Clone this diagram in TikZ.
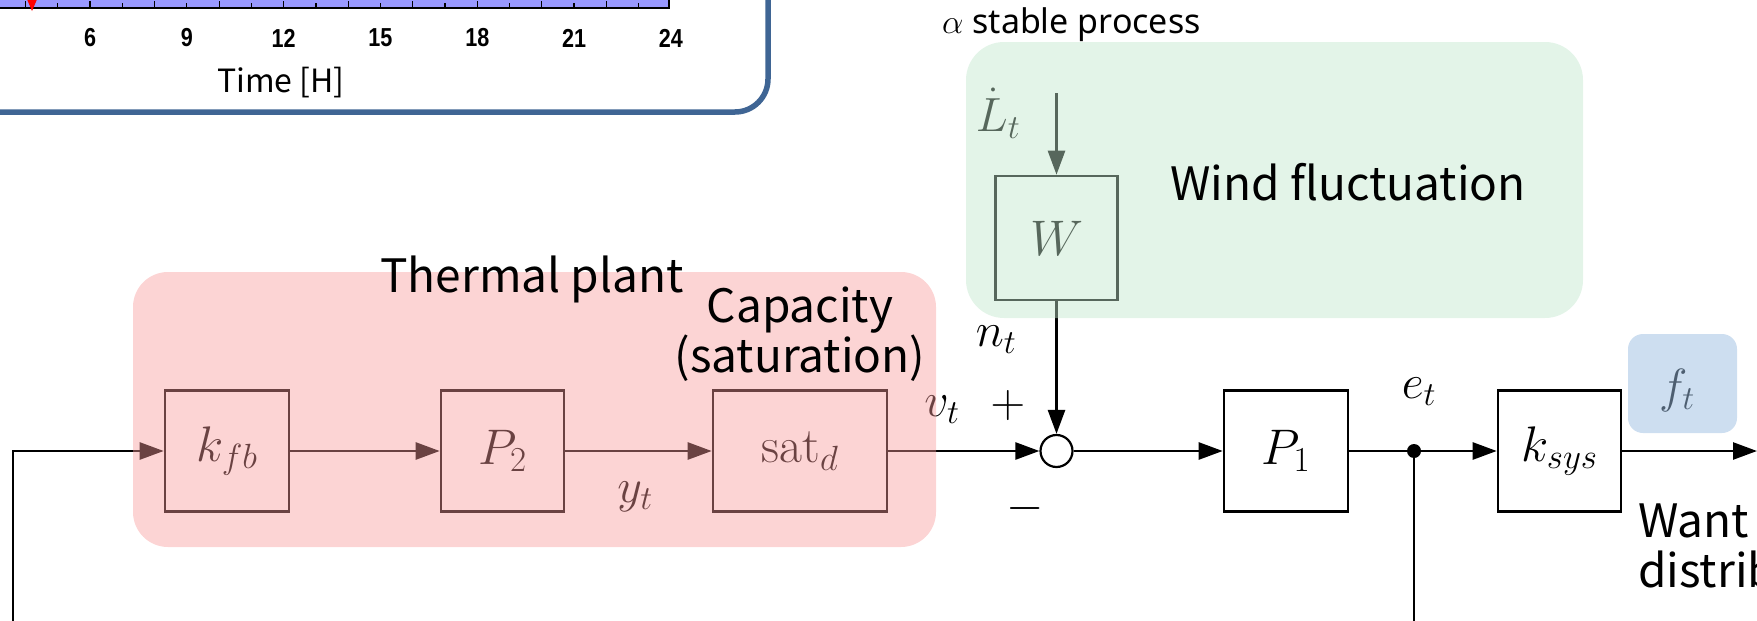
\RequirePackage{fix-cm}
\documentclass[tikz,border=0pt]{standalone}
\usepackage{fontspec}
\usetikzlibrary{arrows.meta,calc}
\newfontfamily\labelfont{Noto Sans CJK JP}
\newfontfamily\smallfont{Noto Sans}
\newfontfamily\chartfont[FakeStretch=0.83]{Liberation Sans}
\definecolor{panelblue}{RGB}{63,101,148}
\definecolor{plotfill}{RGB}{153,153,255}
\definecolor{redov}{RGB}{248,155,155}
\definecolor{greenov}{RGB}{193,230,204}
\definecolor{blueov}{RGB}{155,189,225}
\begin{document}
\begin{tikzpicture}[x=1pt,y=-1pt,
  blockbox/.style={draw, line width=2.6pt, inner sep=0pt, minimum height=121pt,
    font=\fontsize{50}{60}\selectfont},
  sig/.style={inner sep=0pt, font=\fontsize{48}{56}\selectfont},
  conn/.style={line width=2.6pt},
  arr/.style={conn, -{Triangle[length=24pt,width=17pt]}},
  bigtext/.style={inner sep=0pt, font=\labelfont\fontsize{46}{50}\selectfont},
  ticklab/.style={inner sep=0pt, font=\chartfont\fontsize{26}{30}\selectfont}
]
\useasboundingbox (0,0) rectangle (1757,621);
\clip (0,0) rectangle (1757,621);

% ---- chart panel (top left) ----
\fill[plotfill] (-10,-10) rectangle (669,8);
\foreach \h in {0,...,23} {
  \pgfmathsetmacro\xx{-103.6+32.27*\h}
  \pgfmathsetmacro\len{ifthenelse(mod(\h,2)==0,7,5)}
  \draw[line width=1.2pt] (\xx,8) -- (\xx,8-\len);
}
\draw[line width=1.8pt] (669,-10) -- (669,8) -- (-10,8);
\fill[red] (26,-3) -- (38,-3) -- (32,11) -- cycle;
\foreach \h in {6,9,...,24} {
  \pgfmathsetmacro\xx{-103.6+32.27*\h}
  \node[ticklab] (t\h) at (\xx,38) {\bfseries\h};
}
\node[inner sep=0pt, font=\labelfont\fontsize{32}{36}\selectfont] (timelab) at (281,83) {Time [H]};
\draw[panelblue, line width=5.5pt, rounded corners=33pt] (-40,-40) rectangle (768,112);

% ---- blocks ----
\node[blockbox, minimum width=124pt] (kfb) at (227,451) {$k_{fb}$};
\node[blockbox, minimum width=123pt] (p2) at (502.5,451) {$P_2$};
\node[blockbox, minimum width=174pt] (sat) at (800,451) {$\mathrm{sat}_d$};
\node[blockbox, minimum width=124pt] (p1) at (1286,451) {$P_1$};
\node[blockbox, minimum width=123pt] (ksys) at (1559.5,451) {$k_{sys}$};
\node[blockbox, minimum width=122pt, minimum height=124pt] (w) at (1056.5,238) {$W$};
\node[circle, draw, line width=2.2pt, minimum size=32pt, inner sep=0pt] (sum) at (1056.5,451) {};
\node[circle, fill, minimum size=14pt, inner sep=0pt] (dot) at (1414,451) {};
\coordinate (fbl) at (13,660);
\coordinate (fbr) at (1414,660);
\coordinate (lin) at (1056.5,93);
\coordinate (out) at (1757,451);

% ---- connectors ----
\draw[arr] (fbl) |- (kfb.west);
\draw[arr] (kfb) -- (p2);
\draw[arr] (p2) -- (sat);
\draw[arr] (sat) -- (sum);
\draw[arr] (sum) -- (p1);
\draw[conn] (p1) -- (dot);
\draw[arr] (dot) -- (ksys);
\draw[arr] (ksys) -- (out);
\draw[conn] (dot) -- (fbr);
\draw[arr] (lin) -- (w);
\draw[arr] (w) -- (sum);

% ---- signal labels ----
\node[sig] (yt) at (635,497) {$y_t$};
\node[sig] (vt) at (942,410) {$v_t$};
\node[sig] (plus) at (1008,405) {$+$};
\node[sig] (minus) at (1025,508) {$-$};
\node[sig] (nt) at (996,340) {$n_t$};
\node[sig] (et) at (1419,392) {$e_t$};
\node[sig] (ft) at (1677,390) {$f_t$};
\node[sig] (Lt) at (998,113) {$\dot L_t$};

% ---- translucent overlays ----
\fill[redov, opacity=0.43, rounded corners=35pt] (133,272) rectangle (936,547);
\fill[greenov, opacity=0.45, rounded corners=38pt] (966,42) rectangle (1583,318);
\fill[blueov, opacity=0.5, rounded corners=15pt] (1628,334) rectangle (1737,433);

% ---- annotation texts ----
\node[bigtext, anchor=base] (thermal) at (532,292) {Thermal plant};
\node[bigtext, anchor=base] (cap1) at (800,322) {Capacity};
\node[bigtext, anchor=base] (cap2) at (800,372) {(saturation)};
\node[bigtext, anchor=base] (wind) at (1348,200) {Wind fluctuation};
\node[bigtext, anchor=base west] (want) at (1638,537) {Want};
\node[bigtext, anchor=base west] (distrib) at (1638,587) {distribution};
\node[inner sep=0pt, anchor=base west, font=\smallfont\fontsize{34}{38}\selectfont] (alpha) at (942,33) {$\alpha$ stable process};
\end{tikzpicture}
\end{document}
